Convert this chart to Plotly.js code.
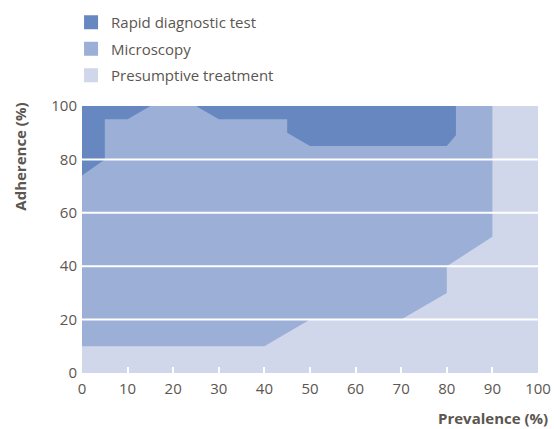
<!DOCTYPE html>
<html>
<head>
<meta charset="utf-8">
<script src="https://cdn.plot.ly/plotly-3.0.1.min.js"></script>
<style>html,body{margin:0;padding:0;background:#fff;}#chart{width:554px;height:429px;}</style>
</head>
<body>
<div id="chart"></div>
<script>
// Region boundaries (prevalence %, adherence %)
const rdtX = [0, 0, 5, 5, 10, 15, 25, 30, 45, 45, 50, 80, 82, 82];
const rdtY = [100, 74, 80, 95, 95, 100, 100, 95, 95, 90, 85, 85, 89, 100];
const micX = [0, 0, 40, 50, 70, 80, 80, 90, 90];
const micY = [100, 10, 10, 20, 20, 30, 40, 51, 100];
const presX = [0, 100, 100, 0];
const presY = [0, 0, 100, 100];
const seriesNames = ["Rapid diagnostic test", "Microscopy", "Presumptive treatment"];
const colors = ["#6687bf", "#9cafd7", "#d0d7eb"];
const xTicks = [0, 10, 20, 30, 40, 50, 60, 70, 80, 90, 100];
const yTicks = [0, 20, 40, 60, 80, 100];
const gridY = [20, 40, 60, 80];

const textColor = "#5b5650";
const font = "'Open Sans', Lato, sans-serif";

const polys = [
  {x: presX, y: presY, c: colors[2]},
  {x: micX, y: micY, c: colors[1]},
  {x: rdtX, y: rdtY, c: colors[0]}
];
const traces = polys.map(p => ({
  type: "scatter", mode: "none", x: p.x, y: p.y, fill: "toself",
  fillcolor: p.c, showlegend: false, hoverinfo: "skip"
}));
seriesNames.forEach((n, i) => {
  traces.push({
    type: "scatter", mode: "markers", x: [null], y: [null], name: n,
    legendgroup: "g" + i,
    marker: {symbol: "square", size: 14, color: colors[i]}, showlegend: true
  });
});

const shapes = gridY.map(v => ({
  type: "line", xref: "paper", x0: 0, x1: 1, yref: "y", y0: v, y1: v,
  line: {color: "#ffffff", width: 2}, layer: "above"
}));

const layout = {
  width: 554, height: 429,
  margin: {l: 82, r: 16, t: 106, b: 56},
  paper_bgcolor: "#ffffff", plot_bgcolor: "#ffffff",
  font: {family: font, color: textColor, size: 15},
  showlegend: true,
  legend: {x: -0.024, xref: "paper", y: 0.986, yref: "container", xanchor: "left", yanchor: "top",
    font: {size: 15, color: textColor}, itemwidth: 30, traceorder: "grouped", tracegroupgap: 4,
    bgcolor: "rgba(0,0,0,0)"},
  xaxis: {range: [0, 100], tickvals: xTicks, ticks: "inside", ticklen: 6, tickwidth: 2,
    tickcolor: "#ffffff", showgrid: false, zeroline: false, showline: false,
    layer: "above traces", tickfont: {size: 15, color: textColor}, ticklabelstandoff: 5, fixedrange: true},
  yaxis: {range: [0, 100], tickvals: yTicks, ticks: "", showgrid: false, zeroline: false,
    showline: false, tickfont: {size: 15, color: textColor}, ticklabelstandoff: 4, fixedrange: true},
  shapes: shapes,
  annotations: [
    {text: "<b>Adherence (%)</b>", xref: "paper", yref: "paper", x: -0.136, y: 0.81,
     textangle: -90, showarrow: false, font: {size: 15, color: textColor, family: font},
     xanchor: "center", yanchor: "middle"},
    {text: "<b>Prevalence (%)</b>", xref: "paper", yref: "paper", x: 1.024, y: -0.168,
     showarrow: false, borderpad: 0, font: {size: 15, color: textColor, family: font},
     xanchor: "right", yanchor: "middle"}
  ]
};

Plotly.newPlot("chart", traces, layout, {displayModeBar: false, staticPlot: true});
</script>
</body>
</html>
